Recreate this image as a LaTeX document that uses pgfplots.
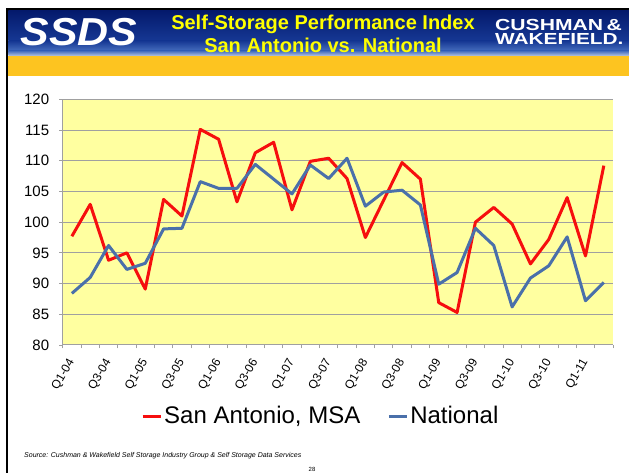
\documentclass[border=0pt]{standalone}
\usepackage{fontspec}
\setmainfont{Liberation Sans}
\usepackage{pgfplots}
\usepackage{pgfplotstable}
\pgfplotsset{compat=1.18}

\definecolor{saRed}{RGB}{246,14,14}
\definecolor{natBlue}{RGB}{74,112,170}
\definecolor{bandGold}{RGB}{253,196,32}
\definecolor{navyTop}{RGB}{4,26,108}
\definecolor{navyMid}{RGB}{22,56,148}
\definecolor{blueLow}{RGB}{70,110,190}
\definecolor{paleBlue}{RGB}{185,200,225}
\definecolor{plotYellow}{RGB}{255,255,160}
\definecolor{gridGray}{RGB}{160,160,160}
\definecolor{titleYellow}{RGB}{255,255,0}

% quarterly index, Q1-04 .. Q2-11
\pgfplotstableread{
idx sa    nat
0   97.7  88.4
1   102.9 91.0
2   93.8  96.2
3   95.0  92.3
4   89.1  93.3
5   103.7 98.9
6   101.0 99.0
7   115.1 106.6
8   113.5 105.5
9   103.3 105.5
10  111.3 109.4
11  113.0 107.0
12  102.0 104.6
13  109.9 109.3
14  110.4 107.1
15  107.1 110.4
16  97.5  102.6
17  103.6 104.9
18  109.7 105.2
19  107.0 102.8
20  86.9  89.9
21  85.3  91.8
22  100.0 99.0
23  102.4 96.2
24  99.7  86.2
25  93.2  90.9
26  97.2  92.9
27  104.0 97.6
28  94.5  87.2
29  109.2 90.2
}\perfdata

\begin{document}
\begin{tikzpicture}
\useasboundingbox (0pt,0pt) rectangle (629pt,473pt);

% header
\fill[black] (6pt,462.3pt) rectangle (629pt,464.7pt);
\fill[black] (6pt,0pt) rectangle (8.3pt,464.7pt);
\shade[top color=navyTop, bottom color=navyMid] (8.3pt,432pt) rectangle (629pt,462.3pt);
\shade[top color=navyMid, bottom color=blueLow] (8.3pt,422pt) rectangle (629pt,432pt);
\shade[top color=blueLow, bottom color=paleBlue] (8.3pt,417pt) rectangle (629pt,422pt);
\fill[bandGold] (8.3pt,397pt) rectangle (629pt,417pt);

\node[anchor=base, inner sep=0pt, text=white, font=\fontsize{39}{39}\selectfont\bfseries\itshape]
  at (79pt,427.5pt) {\scalebox{1.1}[1]{SSDS}};

\node[anchor=base, inner sep=0pt, text=titleYellow, font=\fontsize{20}{20}\selectfont\bfseries]
  at (323pt,443.7pt) {Self-Storage Performance Index};
\node[anchor=base, inner sep=0pt, text=titleYellow, font=\fontsize{20}{20}\selectfont\bfseries]
  at (323pt,420.3pt) {San Antonio vs. National};

\node[anchor=base west, inner sep=0pt, text=white, font=\fontsize{16}{16}\selectfont\bfseries]
  at (495pt,442pt) {\scalebox{1.32}[1]{CUSHMAN\,\&}};
\node[anchor=base west, inner sep=0pt, text=white, font=\fontsize{16}{16}\selectfont\bfseries]
  at (495pt,428pt) {\scalebox{1.3}[1]{WAKEFIELD.}};

\begin{axis}[
  at={(62.7pt,128pt)}, anchor=south west,
  scale only axis, width=550.3pt, height=245.7pt,
  xmin=-0.5, xmax=29.5, ymin=80, ymax=120,
  xtick={0,2,...,28},
  xticklabels={Q1-04,Q3-04,Q1-05,Q3-05,Q1-06,Q3-06,Q1-07,Q3-07,Q1-08,Q3-08,Q1-09,Q3-09,Q1-10,Q3-10,Q1-11},
  ytick={80,85,...,120},
  minor xtick={-0.5,0.5,...,29.5},
  minor ytick={80,85,...,120},
  major tick length=0pt, minor tick length=3.5pt,
  tick align=outside,
  tick style={gridGray, line width=0.8pt},
  axis x line*=bottom, axis y line*=left,
  axis line style={gridGray, line width=1pt, -},
  ymajorgrids, grid style={gridGray, line width=1pt},
  axis background/.style={fill=plotYellow},
  /pgf/number format/assume math mode=true,
  yticklabel style={font=\fontsize{15}{15}\selectfont, anchor=east, inner sep=0pt},
  yticklabel shift=13.4pt,
  xticklabel style={font=\fontsize{12}{12}\selectfont, rotate=60, anchor=east, inner sep=0pt},
  xticklabel shift=15pt,
  legend columns=2,
  legend image code/.code={\draw[#1] (0pt,0pt) -- (18pt,0pt);},
  legend style={draw=none, fill=none, at={(0.469,-0.289)}, anchor=center,
    font=\fontsize{24}{24}\selectfont,
    /tikz/every even column/.append style={column sep=25pt}},
]
\addplot[saRed, line width=3pt, line join=round] table[x=idx, y=sa] {\perfdata};
\addlegendentry{San Antonio, MSA}
\addplot[natBlue, line width=3pt, line join=round] table[x=idx, y=nat] {\perfdata};
\addlegendentry{National}
\end{axis}

\node[anchor=base west, inner sep=0pt, font=\fontsize{7}{7}\selectfont\itshape]
  at (24pt,15.5pt) {Source: Cushman \& Wakefield Self Storage Industry Group \& Self Storage Data Services};
\node[inner sep=0pt, font=\fontsize{6}{6}\selectfont] at (312pt,4pt) {28};
\end{tikzpicture}
\end{document}
